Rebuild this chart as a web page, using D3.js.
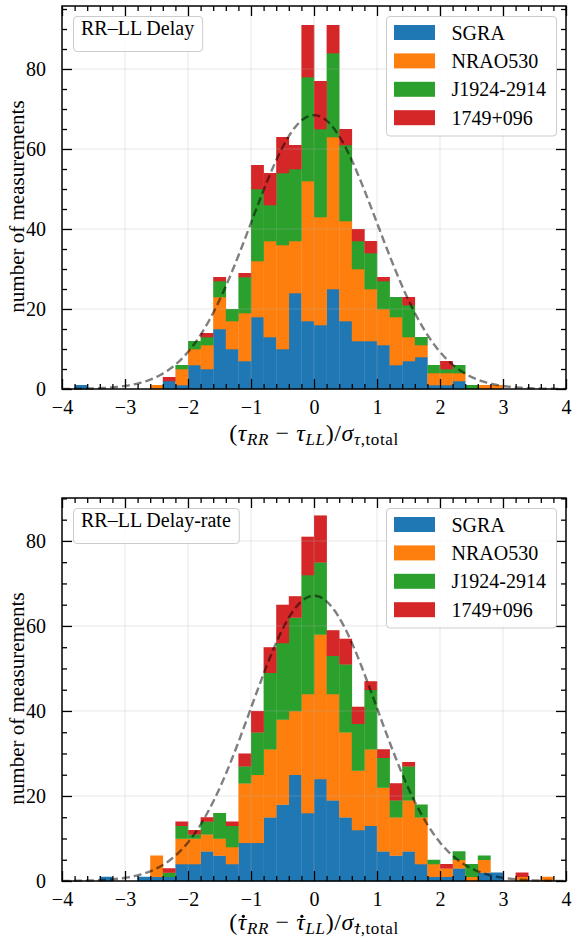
<!DOCTYPE html>
<html>
<head>
<meta charset="utf-8">
<script src="https://cdn.jsdelivr.net/npm/d3@7"></script>
<style>
  body { margin: 0; background: #fff; }
  text { font-family: "Liberation Serif", "DejaVu Serif", serif; fill: #000; }
</style>
</head>
<body>
<div id="chart"></div>
<script>
// bin lower edges (width 0.2)
const binStarts = [-4.0,-3.8,-3.6,-3.4,-3.2,-3.0,-2.8,-2.6,-2.4,-2.2,
                   -2.0,-1.8,-1.6,-1.4,-1.2,-1.0,-0.8,-0.6,-0.4,-0.2,
                    0.0, 0.2, 0.4, 0.6, 0.8, 1.0, 1.2, 1.4, 1.6, 1.8,
                    2.0, 2.2, 2.4, 2.6, 2.8, 3.0, 3.2, 3.4, 3.6, 3.8];
const binWidth = 0.2;
const sources = ["SGRA", "NRAO530", "J1924-2914", "1749+096"];
const colors = ["#1f77b4", "#ff7f0e", "#2ca02c", "#d62728"];

// counts per bin, delay panel
const delaySGRA  = [0,1,0,0,0,0,0,0,2,1, 6,5,15,10,7,18,13,10,24,17, 16,25,17,12,12,11,6,7,8,1, 1,2,0,0,0,0,0,0,0,0];
const delayNRAO  = [0,0,0,0,0,0,0,1,0,4, 4,6,8,7,12,14,24,26,13,35, 27,38,25,18,13,9,12,6,3,3, 3,2,0,1,1,0,0,0,0,0];
const delayJ1924 = [0,0,0,0,0,0,0,0,0,1, 2,2,4,3,9,18,9,18,18,26, 22,21,19,7,9,7,5,8,2,2, 1,2,1,0,0,0,0,0,0,0];
const delay1749  = [0,0,0,0,0,0,0,0,1,0, 0,1,1,0,1,6,8,9,6,13, 12,7,4,3,3,1,0,2,0,0, 2,0,0,0,0,0,0,0,0,0];

// counts per bin, delay-rate panel
const rateSGRA  = [0,0,0,1,0,0,1,1,1,4, 4,7,6,4,9,9,15,18,25,16, 24,19,15,12,13,7,6,7,4,1, 1,3,0,2,2,0,0,0,0,0];
const rateNRAO  = [0,0,0,0,0,0,0,5,0,6, 6,4,4,4,14,16,16,20,15,28, 34,25,20,14,18,15,9,12,11,3, 2,2,1,3,0,0,1,0,1,0];
const rateJ1924 = [0,0,0,0,0,0,0,0,1,3, 1,3,6,5,4,10,18,18,22,28, 17,9,16,11,14,7,4,8,3,1, 0,2,3,1,0,0,0,0,0,0];
const rate1749  = [0,0,0,0,0,0,0,0,1,1, 1,1,0,1,3,5,6,9,5,9, 11,6,6,4,2,2,4,1,0,0, 1,0,0,0,0,0,1,0,0,0];

const xMajor = [-4,-3,-2,-1,0,1,2,3,4];
const yMajor = [0,20,40,60,80];

const panels = [
  { top: 6, bottom: 389, yMax: 95.75, title: "RR\u2013LL Delay",
    series: [delaySGRA, delayNRAO, delayJ1924, delay1749],
    xlabelBase: 441, dot: false },
  { top: 498, bottom: 881, yMax: 90.1, title: "RR\u2013LL Delay-rate",
    series: [rateSGRA, rateNRAO, rateJ1924, rate1749],
    xlabelBase: 930, dot: true }
];

const W = 572, H = 937;
const left = 62, right = 566;

const svg = d3.select("#chart").append("svg")
  .attr("width", W).attr("height", H)
  .style("display", "block");

function drawPanel(p) {
  const x = d3.scaleLinear().domain([-4, 4]).range([left, right]);
  const y = d3.scaleLinear().domain([0, p.yMax]).range([p.bottom, p.top]);
  const g = svg.append("g");

  // stacked histogram
  const table = binStarts.map((b, i) => {
    const row = { x0: b };
    sources.forEach((s, j) => row[s] = p.series[j][i]);
    return row;
  });
  const stacked = d3.stack().keys(sources)(table);
  g.append("g").selectAll("g")
    .data(stacked)
    .join("g")
      .attr("fill", (d, i) => colors[i])
    .selectAll("rect")
    .data(d => d.filter(v => v[1] > v[0]))
    .join("rect")
      .attr("x", d => x(d.data.x0))
      .attr("width", x(binWidth) - x(0) + 0.3)
      .attr("y", d => y(d[1]))
      .attr("height", d => y(d[0]) - y(d[1]) + 0.3);

  // grid (above the bars, like matplotlib)
  g.append("g").selectAll("line")
    .data(xMajor.slice(1, -1))
    .join("line")
      .attr("x1", d => x(d)).attr("x2", d => x(d))
      .attr("y1", p.top).attr("y2", p.bottom)
      .attr("stroke", "#b0b0b0").attr("stroke-opacity", 0.3).attr("stroke-width", 1);
  g.append("g").selectAll("line")
    .data(yMajor.slice(1))
    .join("line")
      .attr("x1", left).attr("x2", right)
      .attr("y1", d => y(d)).attr("y2", d => y(d))
      .attr("stroke", "#b0b0b0").attr("stroke-opacity", 0.3).attr("stroke-width", 1);

  // gaussian reference: N * binwidth * standard normal pdf
  const total = d3.sum(p.series.map(s => d3.sum(s)));
  const xs = d3.range(-4, 4.0001, 0.02);
  const line = d3.line()
    .x(v => x(v))
    .y(v => y(total * binWidth * Math.exp(-v * v / 2) / Math.sqrt(2 * Math.PI)));
  g.append("path")
    .datum(xs)
    .attr("d", line)
    .attr("fill", "none")
    .attr("stroke", "#000").attr("stroke-opacity", 0.5)
    .attr("stroke-width", 2.4)
    .attr("stroke-dasharray", "8,4");

  // axes with inward ticks on all four sides
  const xMinor = d3.range(-40, 41, 2).map(v => v / 10).filter(v => !xMajor.includes(v));
  const yMinor = d3.range(0, p.yMax, 5).filter(v => !yMajor.includes(v));

  const bottomAx = d3.axisBottom(x).tickValues(xMajor).tickSizeInner(-10).tickSizeOuter(0)
    .tickPadding(11).tickFormat(d => d < 0 ? "\u2212" + Math.abs(d) : d);
  const bottomMin = d3.axisBottom(x).tickValues(xMinor).tickSizeInner(-5).tickSizeOuter(0).tickFormat("");
  const topAx = d3.axisTop(x).tickValues(xMajor).tickSizeInner(-10).tickSizeOuter(0).tickFormat("");
  const topMin = d3.axisTop(x).tickValues(xMinor).tickSizeInner(-5).tickSizeOuter(0).tickFormat("");
  const leftAx = d3.axisLeft(y).tickValues(yMajor).tickSizeInner(-10).tickSizeOuter(0).tickPadding(16);
  const leftMin = d3.axisLeft(y).tickValues(yMinor).tickSizeInner(-5).tickSizeOuter(0).tickFormat("");
  const rightAx = d3.axisRight(y).tickValues(yMajor).tickSizeInner(-10).tickSizeOuter(0).tickFormat("");
  const rightMin = d3.axisRight(y).tickValues(yMinor).tickSizeInner(-5).tickSizeOuter(0).tickFormat("");

  const axG = g.append("g");
  [[bottomAx, p.bottom], [bottomMin, p.bottom], [topAx, p.top], [topMin, p.top]].forEach(([a, ty]) => {
    axG.append("g").attr("transform", `translate(0,${ty})`).call(a);
  });
  [[leftAx, left], [leftMin, left], [rightAx, right], [rightMin, right]].forEach(([a, tx]) => {
    axG.append("g").attr("transform", `translate(${tx},0)`).call(a);
  });
  axG.selectAll(".domain").remove();
  axG.selectAll(".tick line").attr("stroke", "#000").attr("stroke-width", 1.3);
  axG.selectAll(".tick text")
    .style("font-family", "'Liberation Serif', serif")
    .style("font-size", "20px").attr("fill", "#000");

  // spines
  g.append("rect")
    .attr("x", left).attr("y", p.top)
    .attr("width", right - left).attr("height", p.bottom - p.top)
    .attr("fill", "none").attr("stroke", "#000").attr("stroke-width", 1.5);

  // title box (upper left)
  const tb = g.append("g");
  const tbRect = tb.append("rect");
  const tbText = tb.append("text")
    .attr("x", 81).attr("y", p.top + 28.5)
    .style("font-size", "20px")
    .text(p.title);
  const tw = tbText.node().getComputedTextLength();
  tbRect.attr("x", 73.5).attr("y", p.top + 10.5)
    .attr("width", tw + 16).attr("height", 35)
    .attr("rx", 3.5)
    .attr("fill", "#fff").attr("fill-opacity", 0.8)
    .attr("stroke", "#cccccc").attr("stroke-width", 1);

  // legend (upper right)
  const lg = g.append("g");
  lg.append("rect")
    .attr("x", 386.5).attr("y", p.top + 10.5)
    .attr("width", 170).attr("height", 119.5)
    .attr("rx", 3.5)
    .attr("fill", "#fff").attr("fill-opacity", 0.8)
    .attr("stroke", "#cccccc").attr("stroke-width", 1);
  const items = lg.selectAll("g.item")
    .data(sources)
    .join("g")
      .attr("transform", (d, i) => `translate(0,${p.top + 26.5 + 28.4 * i})`);
  items.append("rect")
    .attr("x", 394).attr("y", -7.5)
    .attr("width", 41).attr("height", 15)
    .attr("fill", (d, i) => colors[i]);
  items.append("text")
    .attr("x", 451.5).attr("y", 0)
    .attr("dy", "0.35em")
    .style("font-size", "20px")
    .text(d => d);

  // y label
  g.append("text")
    .attr("transform", `translate(24,${(p.top + p.bottom) / 2 + 9}) rotate(-90)`)
    .attr("text-anchor", "middle")
    .style("font-size", "21px")
    .text("number of measurements");

  // x label with math-style parts; dots over tau are drawn as small circles
  const parts = [
    { t: "(" },
    { t: "\u03c4", it: true, tau: true },
    { t: "RR", it: true, sub: true },
    { t: " \u2212 " },
    { t: "\u03c4", it: true, tau: true },
    { t: "LL", it: true, sub: true },
    { t: ")/" },
    { t: "\u03c3", it: true },
    { t: "\u03c4", it: true, sub: true, tau: true },
    { t: ",total", sub: true }
  ];
  const xl = g.append("text")
    .attr("x", (left + right) / 2).attr("y", p.xlabelBase)
    .attr("text-anchor", "middle")
    .style("font-size", "24px")
    .style("letter-spacing", "0.6px");
  let subOn = false;
  const tauSpans = [];
  parts.forEach(pt => {
    const ts = xl.append("tspan").text(pt.t);
    if (pt.it) ts.style("font-style", "italic");
    if (pt.sub) ts.style("font-size", "17px");
    if (pt.sub && !subOn) { ts.attr("dy", 4); subOn = true; }
    else if (!pt.sub && subOn) { ts.attr("dy", -4); subOn = false; }
    if (pt.tau) tauSpans.push({ ts, sub: !!pt.sub });
  });
  if (p.dot) {
    tauSpans.forEach(({ ts, sub }) => {
      const e = ts.node().getExtentOfChar(0);
      g.append("circle")
        .attr("cx", e.x + e.width * 0.6)
        .attr("cy", e.y + e.height * (sub ? 0.3 : 0.28))
        .attr("r", sub ? 1.2 : 1.6)
        .attr("fill", "#000");
    });
  }
}

panels.forEach(drawPanel);
</script>
</body>
</html>
